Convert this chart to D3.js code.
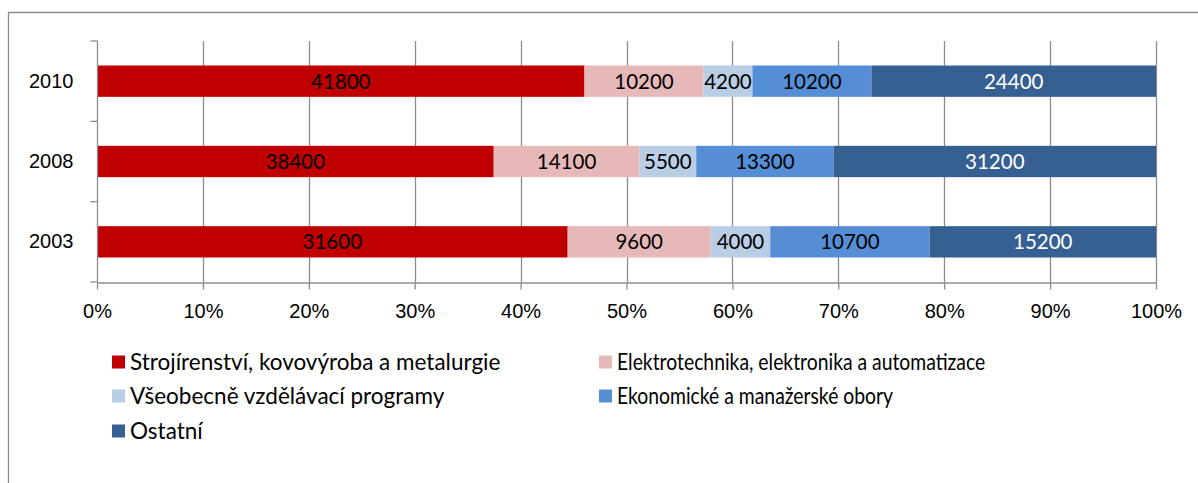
<!DOCTYPE html>
<html>
<head>
<meta charset="utf-8">
<script src="https://cdn.jsdelivr.net/npm/d3@7"></script>
<style>
  body { margin: 0; background: #fff; }
  svg { display: block; font-family: Lato, "Open Sans", sans-serif; }
  .grid line { stroke: #8c8c8c; stroke-width: 1.3; }
  .axis path, .axis line { stroke: #8c8c8c; stroke-width: 1.3; }
  .axis text { font-size: 20px; fill: #000; }
  .seg-label { font-size: 20.5px; }
  .legend text { font-size: 22.5px; fill: #000; }
</style>
</head>
<body>
<svg id="chart" width="1198" height="483"></svg>
<script>
// years, top to bottom
var years = ['2010', '2008', '2003'];

var seriesNames = [
  'Strojírenství, kovovýroba a metalurgie',
  'Elektrotechnika, elektronika a automatizace',
  'Všeobecně vzdělávací programy',
  'Ekonomické a manažerské obory',
  'Ostatní'
];

// absolute numbers per series, in the order of years
var strojirenstvi = [41800, 38400, 31600];
var elektrotechnika = [10200, 14100, 9600];
var vseobecne = [4200, 5500, 4000];
var ekonomicke = [10200, 13300, 10700];
var ostatni = [24400, 31200, 15200];

var colors = ['#c00000', '#e6b9b8', '#b9cde5', '#558ed5', '#376092'];
var labelColors = ['#000', '#000', '#000', '#000', '#fff'];

var xTicks = [0, 0.1, 0.2, 0.3, 0.4, 0.5, 0.6, 0.7, 0.8, 0.9, 1];

var svg = d3.select('#chart');

// outer frame (chart area border)
svg.append('path')
  .attr('d', 'M8.5,483 L8.5,12.5 L1198,12.5')
  .attr('fill', 'none')
  .attr('stroke', '#8c8c8c')
  .attr('stroke-width', 1.3);

var plotLeft = 97, plotRight = 1156, plotTop = 41, plotBottom = 282;

var x = d3.scaleLinear().domain([0, 1]).range([plotLeft, plotRight]);
var y = d3.scaleBand().domain(years).range([plotTop, plotBottom]).paddingInner(0.61).paddingOuter(0.305);

// build rows
var allSeries = [strojirenstvi, elektrotechnika, vseobecne, ekonomicke, ostatni];
var rows = years.map(function(yr, i) {
  var total = d3.sum(allSeries, function(s) { return s[i]; });
  var acc = 0;
  return allSeries.map(function(s, k) {
    var seg = { year: yr, k: k, value: s[i], x0: acc / total, x1: (acc + s[i]) / total };
    acc += s[i];
    return seg;
  });
});

// vertical gridlines
svg.append('g')
  .attr('class', 'grid')
  .selectAll('line')
  .data(xTicks.slice(1))
  .join('line')
    .attr('x1', function(d) { return Math.round(x(d)) + 0.5; })
    .attr('x2', function(d) { return Math.round(x(d)) + 0.5; })
    .attr('y1', plotTop)
    .attr('y2', plotBottom);

// bars
var rowG = svg.append('g').selectAll('g')
  .data(rows)
  .join('g');

rowG.selectAll('rect')
  .data(function(d) { return d; })
  .join('rect')
    .attr('x', function(d) { return x(d.x0); })
    .attr('width', function(d) { return x(d.x1) - x(d.x0); })
    .attr('y', function(d) { return y(d.year); })
    .attr('height', y.bandwidth())
    .attr('fill', function(d) { return colors[d.k]; });

rowG.selectAll('text')
  .data(function(d) { return d; })
  .join('text')
    .attr('class', 'seg-label')
    .attr('x', function(d) { return (x(d.x0) + x(d.x1)) / 2; })
    .attr('y', function(d) { return y(d.year) + y.bandwidth() / 2; })
    .attr('dy', '0.36em')
    .attr('text-anchor', 'middle')
    .attr('fill', function(d) { return labelColors[d.k]; })
    .text(function(d) { return d.value; });

// x axis
svg.append('g')
  .attr('class', 'axis')
  .attr('transform', 'translate(0,' + (plotBottom + 0.5) + ')')
  .call(d3.axisBottom(x).tickValues(xTicks).tickFormat(d3.format('.0%')).tickSize(7).tickPadding(14).tickSizeOuter(0))
  .call(function(g) { g.selectAll('text').attr('dy', '0.71em'); });

// y axis
var yAxisG = svg.append('g')
  .attr('class', 'axis')
  .attr('transform', 'translate(' + (plotLeft + 0.5) + ',0)')
  .call(d3.axisLeft(y).tickSize(0).tickPadding(24));
yAxisG.select('.domain').attr('d', 'M0,' + plotTop + 'V' + plotBottom);

// y-axis tick marks at band boundaries
yAxisG.selectAll('.bound')
  .data(d3.range(years.length + 1))
  .join('line')
    .attr('class', 'bound')
    .attr('x1', -7).attr('x2', 0)
    .attr('y1', function(i) { return plotTop + i * (plotBottom - plotTop) / years.length; })
    .attr('y2', function(i) { return plotTop + i * (plotBottom - plotTop) / years.length; });

// legend: two columns, the right one is drawn a bit narrower
var legendPos = [[112, 362], [599, 362], [112, 396], [599, 396], [112, 431]];
var legend = svg.append('g')
  .attr('class', 'legend')
  .selectAll('g')
  .data(seriesNames)
  .join('g')
    .attr('transform', function(d, i) { return 'translate(' + legendPos[i][0] + ',' + legendPos[i][1] + ')'; });

legend.append('rect')
  .attr('x', 0).attr('y', -6.5)
  .attr('width', 13).attr('height', 13)
  .attr('fill', function(d, i) { return colors[i]; });

legend.append('text')
  .attr('transform', function(d, i) { return 'translate(18,0)' + (i % 2 ? ' scale(0.86,1)' : ''); })
  .attr('dy', '0.35em')
  .text(function(d) { return d; });
</script>
</body>
</html>
